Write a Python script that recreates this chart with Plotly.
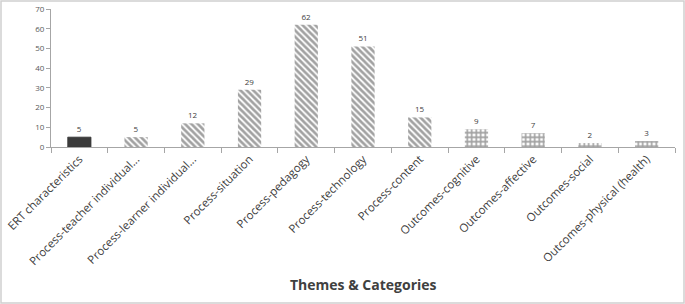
import plotly.graph_objects as go

categories = ["ERT characteristics", "Process-teacher individual...", "Process-learner individual...",
              "Process-situation", "Process-pedagogy", "Process-technology", "Process-content",
              "Outcomes-cognitive", "Outcomes-affective", "Outcomes-social", "Outcomes-physical (health)"]
values = [5, 5, 12, 29, 62, 51, 15, 9, 7, 2, 3]
patterns = ["", "\\", "\\", "\\", "\\", "\\", "\\", "+", "+", "+", "+"]
bg_colors = ["#3b3b3b"] + ["white"] * 10
line_widths = [0.8] + [0] * 10
y_ticks = [0, 10, 20, 30, 40, 50, 60, 70]

FONT = "Open Sans"
W, H = 685, 304
ml, mr, mt, mb = 51, 10, 9, 157

fig = go.Figure(go.Bar(
    x=categories, y=values,
    text=[str(v) for v in values], textposition="outside",
    textfont=dict(size=8, color="#404040", family=FONT),
    cliponaxis=False,
    marker=dict(color=bg_colors,
                line=dict(color="#3b3b3b", width=line_widths),
                pattern=dict(shape=patterns, fgcolor="#111111", bgcolor=bg_colors,
                             size=4.5, solidity=0.6)),
    width=0.41,
))

pw = W - ml - mr
ph = H - mt - mb
fig.add_shape(type="rect", xref="paper", yref="paper",
              x0=(-ml + 1) / pw, x1=(W - ml - 1) / pw,
              y0=-(mb - 1) / ph, y1=(H - mb - 1) / ph,
              line=dict(color="#d0d0d0", width=1.5))

fig.add_annotation(text="<b>Themes &amp; Categories</b>", xref="paper", yref="paper",
                   x=0.5, y=-(284 - (H - mb)) / ph, xanchor="center", yanchor="middle",
                   showarrow=False, font=dict(size=14, color="#404040", family=FONT))

fig.update_layout(
    width=W, height=H, margin=dict(l=ml, r=mr, t=mt, b=mb, autoexpand=False),
    plot_bgcolor="white", paper_bgcolor="white",
    font=dict(family=FONT, color="#404040"),
    showlegend=False,
    xaxis=dict(tickangle=-45, tickfont=dict(size=11.5, color="#404040"), automargin=False,
               showline=True, linecolor="#a6a6a6", linewidth=1,
               ticks="outside", tickson="boundaries", ticklen=5, tickcolor="#a6a6a6",
               showgrid=False),
    yaxis=dict(range=[0, 70], tickvals=y_ticks, tickfont=dict(size=8, color="#595959"),
               automargin=False,
               showline=True, linecolor="#a6a6a6", linewidth=1,
               ticks="outside", ticklen=4, tickcolor="#a6a6a6",
               showgrid=False, zeroline=False),
)

fig.write_html("out.html", config={"displayModeBar": False},
               post_script="document.body.style.margin='0';")
